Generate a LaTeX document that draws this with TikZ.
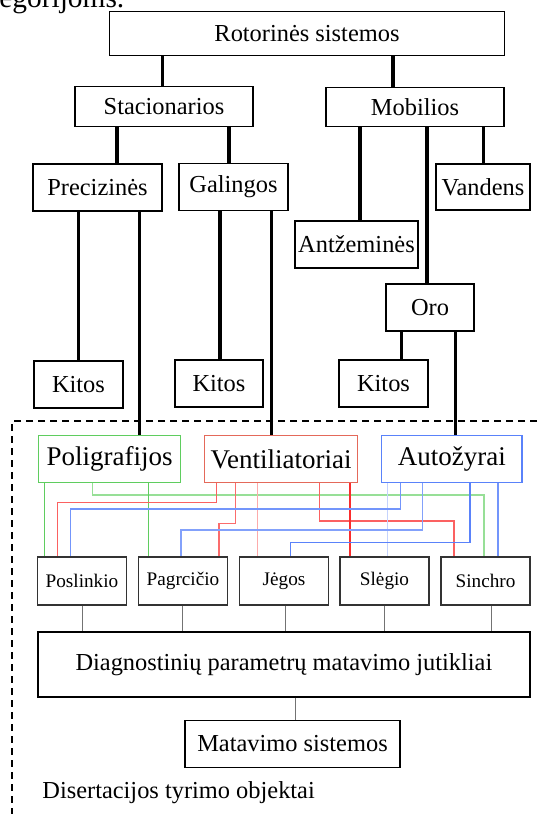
\documentclass[tikz,border=0pt]{standalone}
\usepackage{fontspec}
\setmainfont{Liberation Serif}

\definecolor{grn}{RGB}{95,205,95}
\definecolor{redb}{RGB}{228,105,90}
\definecolor{redl}{RGB}{250,45,45}
\definecolor{blu}{RGB}{90,130,250}

\tikzset{
  box/.style={draw=black, line width=0.7pt, inner sep=0pt, minimum height=23.5pt,
    font=\fontsize{12.2}{14}\selectfont},
  cbox/.style={draw=#1, line width=0.7pt, inner sep=0pt, minimum height=23.5pt,
    font=\fontsize{13.5}{15}\selectfont},
  sbox/.style={draw=black!80, line width=0.7pt, inner sep=0pt, minimum width=44.5pt,
    minimum height=24pt, font=\fontsize{9.6}{11}\selectfont},
  link/.style={line width=1.6pt},
  slink/.style={draw=black!55, line width=0.45pt},
  clink/.style={draw=#1, line width=0.55pt},
  frame/.style={line width=0.6pt, dash pattern=on 3.5pt off 2.5pt}
}

\begin{document}
\begin{tikzpicture}[x=0.5pt, y=-0.5pt]
  \useasboundingbox (0,0) rectangle (537,814);

  \node[anchor=base west, inner sep=0pt, font=\fontsize{14.7}{16}\selectfont] (prev) at (-1,7) {egorijoms.};

  % Top level
  \node[box, minimum width=197.5pt, minimum height=22pt] (rot) at (307,33.5) {Rotorinės sistemos};
  \node[box, minimum width=89pt, minimum height=20pt] (stac) at (164,106.5) {Stacionarios};
  \node[box, minimum width=89pt, minimum height=19.5pt] (mob) at (415,107) {Mobilios};
  \draw[link] (rot.south -| 162.7,0) -- (stac.north -| 162.7,0);
  \draw[link] (rot.south -| 393,0) -- (mob.north -| 393,0);

  % Stacionarios
  \node[box, minimum width=64.5pt] (prec) at (97.5,187.5) {Precizinės};
  \node[box, minimum width=54.5pt] (gal) at (233.5,187) {Galingos};
  \draw[link] (stac.south -| 117,0) -- (prec.north -| 117,0);
  \draw[link] (stac.south -| 229,0) -- (gal.north -| 229,0);

  % Mobilios
  \node[box, minimum width=47pt, minimum height=23pt] (vand) at (483,187) {Vandens};
  \node[box, minimum width=61.5pt] (antz) at (356.5,244.5) {Antžeminės};
  \node[box, minimum width=44pt] (oro) at (430,307.5) {Oro};
  \draw[link] (mob.south -| 360,0) -- (antz.north -| 360,0);
  \draw[link] (mob.south -| 427,0) -- (oro.north -| 427,0);
  \draw[link] (mob.south -| 483.6,0) -- (vand.north -| 483.6,0);

  % Kitos
  \node[box, minimum width=44.5pt] (kit1) at (78.5,384.5) {Kitos};
  \node[box, minimum width=44pt] (kit2) at (219,383.5) {Kitos};
  \node[box, minimum width=44.5pt] (kit3) at (383.5,383.5) {Kitos};
  \draw[link] (prec.south -| 78.8,0) -- (kit1.north -| 78.8,0);
  \draw[link] (gal.south -| 220,0) -- (kit2.north -| 220,0);
  \draw[link] (oro.south -| 401.7,0) -- (kit3.north -| 401.7,0);

  % Research objects
  \draw[frame] (537,421) -- (12,421) -- (12,814);
  \node[cbox=grn, minimum width=71pt] (poli) at (109.6,459) {Poligrafijos};
  \node[cbox=redb, minimum width=76.5pt] (vent) at (281,459) {Ventiliatoriai};
  \node[cbox=blu, minimum width=70.25pt] (auto) at (451.8,459) {Autožyrai};
  \draw[link] (prec.south -| 139.5,0) -- (poli.north -| 139.5,0);
  \draw[link] (gal.south -| 271.6,0) -- (vent.north -| 271.6,0);
  \draw[link] (oro.south -| 455.5,0) -- (auto.north -| 455.5,0);

  % Sensors
  \node[sbox] (posl) at (82,581) {Poslinkio};
  \node[sbox] (pagr) at (183,581) {Pagrcičio};
  \node[sbox] (jeg) at (284,581) {Jėgos};
  \node[sbox] (sleg) at (384.5,581) {Slėgio};
  \node[sbox] (sinc) at (485.5,581) {Sinchro};

  % Green links
  \draw[clink=grn] (poli.south -| 44.3,0) -- (posl.north -| 44.3,0);
  \draw[clink=grn!65!white] (poli.south -| 92.3,0) |- (484,495) -- (sinc.north -| 484,0);
  \draw[clink=grn] (poli.south -| 148.3,0) -- (pagr.north -| 148.3,0);

  % Red links
  \draw[clink=redl!75!white] (vent.south -| 216.7,0) |- (57.7,502.3) -- (posl.north -| 57.7,0);
  \draw[clink=redl!70!white] (vent.south -| 235.7,0) |- (219,523.3) -- (pagr.north -| 219,0);
  \draw[clink=redl!40!white] (vent.south -| 257.7,0) -- (jeg.north -| 257.7,0);
  \draw[clink=redl!75!white] (vent.south -| 319.3,0) |- (454,521) -- (sinc.north -| 454,0);
  \draw[clink=redl] (vent.south -| 350,0) -- (sleg.north -| 350,0);

  % Blue links
  \draw[clink=blu!35!white] (auto.south -| 387.7,0) -- (sleg.north -| 387.7,0);
  \draw[clink=blu!85!white] (auto.south -| 400.7,0) |- (70.3,509) -- (posl.north -| 70.3,0);
  \draw[clink=blu!75!white] (auto.south -| 422.3,0) |- (181,530) -- (pagr.north -| 181,0);
  \draw[clink=blu] (auto.south -| 470,0) |- (290.7,542.3) -- (jeg.north -| 290.7,0);
  \draw[clink=blu!85!white] (auto.south -| 498,0) -- (sinc.north -| 498,0);

  % Measurement
  \node[box, minimum width=246pt, minimum height=32.5pt] (diag) at (283.9,664.5) {Diagnostinių parametrų matavimo jutikliai};
  \node[box, minimum width=107.5pt] (mat) at (292.5,744) {Matavimo sistemos};
  \draw[slink] (posl.south -| 82,0) -- (diag.north -| 82,0);
  \draw[slink] (pagr.south -| 182,0) -- (diag.north -| 182,0);
  \draw[slink] (jeg.south -| 285,0) -- (diag.north -| 285,0);
  \draw[slink] (sleg.south -| 384,0) -- (diag.north -| 384,0);
  \draw[slink] (sinc.south -| 491.5,0) -- (diag.north -| 491.5,0);
  \draw[slink] (diag.south -| 295,0) -- (mat.north -| 295,0);

  \node[anchor=base west, inner sep=0pt, font=\fontsize{12.2}{14}\selectfont] (lbl) at (42,798) {Disertacijos tyrimo objektai};

\end{tikzpicture}
\end{document}
